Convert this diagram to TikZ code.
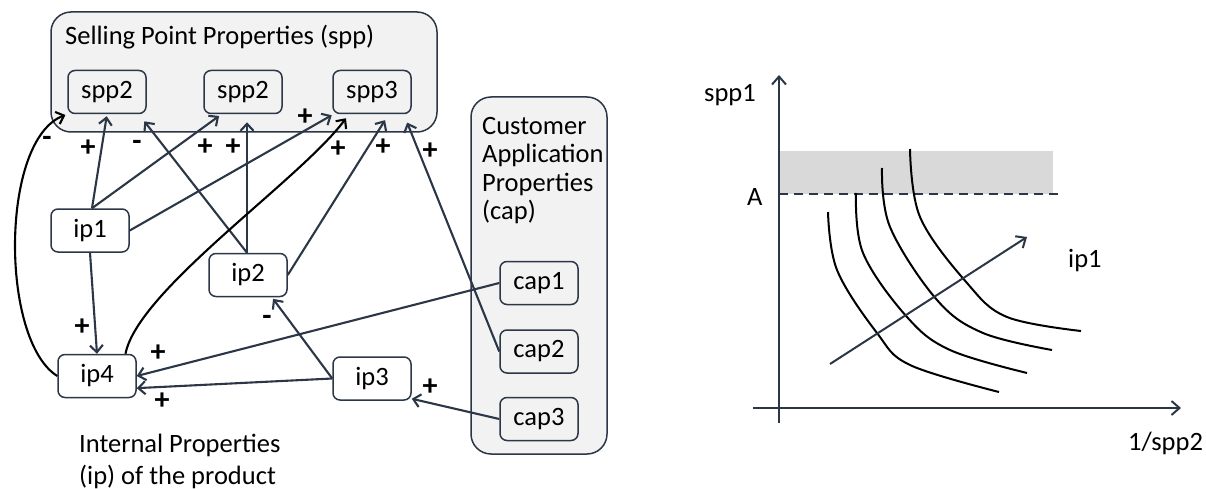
\documentclass[tikz,border=0pt]{standalone}
\usepackage{fontspec}
\setmainfont{Carlito}
\usetikzlibrary{arrows.meta,calc}
\definecolor{edgec}{HTML}{2B3646}
\definecolor{boxfill}{HTML}{F2F2F2}
\definecolor{bandfill}{HTML}{D9D9D9}
\tikzset{
  txt/.style={font=\fontsize{26.5}{28.5}\selectfont, inner sep=0pt},
  container/.style={draw=edgec, line width=1.5pt, rounded corners=20pt, fill=boxfill},
  propbox/.style={draw=edgec, line width=1.5pt, rounded corners=7pt, minimum width=78pt, minimum height=43pt, inner sep=0pt, font=\fontsize{26.5}{29}\selectfont},
  graybox/.style={propbox, fill=boxfill},
  whitebox/.style={propbox, fill=white},
  link/.style={draw=edgec, line width=2.1pt, -{Straight Barb[length=7pt,width=13pt,line width=2.1pt]}},
  blink/.style={draw=black, line width=2.1pt, -{Straight Barb[length=7pt,width=13pt,line width=2.1pt]}},
  sign/.style={font=\fontsize{30}{30}\selectfont\bfseries, inner sep=0pt, text=black},
  axis/.style={draw=edgec, line width=2pt, -{Straight Barb[length=8pt,width=14pt,line width=2pt]}},
  curve/.style={draw=black, line width=2pt},
}
\begin{document}
\begin{tikzpicture}[x=1pt,y=-1pt]
\useasboundingbox (0,0) rectangle (1206,489);
% containers
\draw[container] (51,12) rectangle (437,132);
\draw[container] (471,97) rectangle (607,454);
\node[txt, anchor=base west] (spptitle) at (65,45) {Selling Point Properties (spp)};
\node[txt, anchor=north west, align=left] (captitle) at (482,117) {Customer\\Application\\Properties\\(cap)};
\node[txt, anchor=north west, align=left] (iptitle) at (79,434) {Internal Properties\\[3pt](ip) of the product};
% boxes
\node[graybox] (sppa) at (107,92) {spp2};
\node[graybox] (sppb) at (243,92) {spp2};
\node[graybox] (sppc) at (372,92) {spp3};
\node[whitebox] (ipa) at (90,230.5) {ip1};
\node[whitebox] (ipb) at (248,275) {ip2};
\node[whitebox] (ipd) at (97,376) {ip4};
\node[whitebox] (ipc) at (372,378.5) {ip3};
\node[graybox] (capa) at (539,283) {cap1};
\node[graybox] (capb) at (539,351.5) {cap2};
\node[graybox] (capc) at (539,419) {cap3};
% edges
\draw[link, shorten >=2pt] ([xshift=2pt]ipa.north) -- (sppa.south);
\draw[link, shorten >=3pt] ([xshift=2pt]ipa.north) -- (sppb.-134);
\draw[link, shorten >=2pt] (ipa.east) -- (sppc.-150);
\draw[link, shorten >=9pt] ([xshift=-1pt]ipb.north) -- (sppa.-35);
\draw[link, shorten >=8pt] ([xshift=-1pt]ipb.north) -- ([xshift=-1pt]ipb.north |- sppb.south);
\draw[link, shorten >=7pt] (ipb.east) -- (sppc.-53);
\draw[link, shorten >=9pt] (capb.west) -- (sppc.-35);
\draw[blink, shorten >=5pt] (ipd.38) .. controls (138,290) and (300,180) .. (sppc.-136);
\draw[blink, shorten >=2pt] (ipd.west) .. controls (0,340) and (0,140) .. (sppa.south west);
\draw[link] (ipa.south) -- (ipd.north);
\draw[link] (capa.west) -- (ipd.east);
\draw[link] (ipc.west) -- (ipd.-17);
\draw[link, shorten >=2pt] (ipc.west) -- (ipb.-43);
\draw[link] (capc.west) -- (ipc.-27.5);
% signs
\node[sign] (s1) at (88,148) {+};
\node[sign] (s2) at (47,141) {-};
\node[sign] (s3) at (137,145) {-};
\node[sign] (s4) at (205,147) {+};
\node[sign] (s5) at (233,147) {+};
\node[sign] (s6) at (305,117) {+};
\node[sign] (s7) at (338,149) {+};
\node[sign] (s8) at (383,147) {+};
\node[sign] (s9) at (430,151) {+};
\node[sign] (s10) at (82,327) {+};
\node[sign] (s11) at (158,353) {+};
\node[sign] (s12) at (162,401) {+};
\node[sign] (s13) at (267,320) {-};
\node[sign] (s14) at (430,387) {+};
% chart
\fill[bandfill] (779,151) rectangle (1053,194);
\coordinate (yb) at (779,423);
\coordinate (yt) at (779,75);
\coordinate (xl) at (753,408);
\coordinate (xr) at (1181,408);
\draw[axis] (yb) -- (yt);
\draw[axis] (xl) -- (xr);
\coordinate (dl) at (779,194);
\coordinate (dr) at (1063,194);
\draw[edgec, line width=2pt, dash pattern=on 9pt off 6pt] (dl) -- (dr);
\draw[curve] plot[smooth, tension=0.6] coordinates {(828,212) (837,270) (877,333) (910,365) (999,392)};
\draw[curve] plot[smooth, tension=0.6] coordinates {(856,193) (863,253) (907,317) (950,350) (1027,373)};
\draw[curve] plot[smooth, tension=0.6] coordinates {(882,168) (890,227) (937,300) (983,333) (1052,350)};
\draw[curve] plot[smooth, tension=0.6] coordinates {(910,149) (920,217) (967,283) (1007,317) (1081,331)};
\coordinate (ia) at (830,364);
\coordinate (ib) at (1027,237);
\draw[axis] (ia) -- (ib);
\node[txt, anchor=base west] (lspp1) at (704,102) {spp1};
\node[txt, anchor=base west] (lA) at (747,205) {A};
\node[txt, anchor=base west] (lip1) at (1068,267) {ip1};
\node[txt, anchor=base west] (lspp2) at (1128,450) {1/spp2};
\end{tikzpicture}
\end{document}
